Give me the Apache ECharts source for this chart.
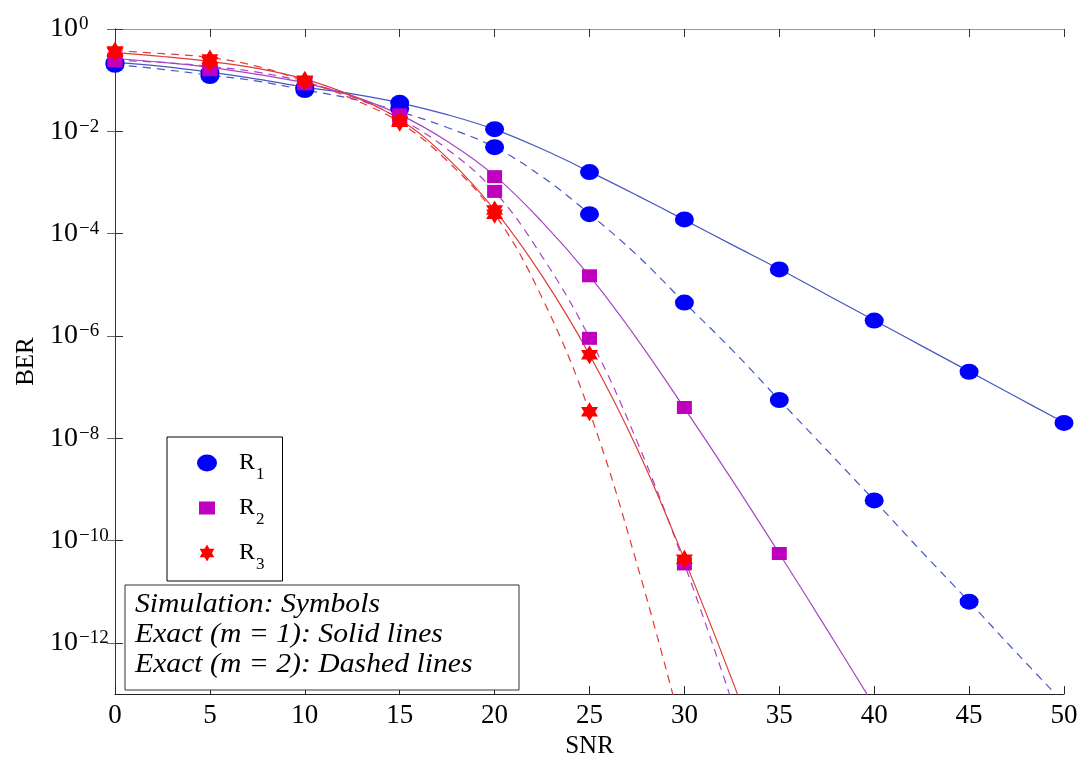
<!DOCTYPE html>
<html><head><meta charset="utf-8">
<script src="https://cdn.jsdelivr.net/npm/echarts@6/dist/echarts.min.js"></script>
<style>html,body{margin:0;padding:0;background:#fff}#c{width:1086px;height:764px}</style>
</head><body><div id="c"></div>
<script>
// ---------- data ----------
const snrCurve = [0,2.5,5,7.5,10,12.5,15,17.5,20,22.5,25,27.5,30,32.5,35,37.5,40,42.5,45,47.5,50];
// Exact curves (m = 1 solid, m = 2 dashed)
const r1ExactM1 = [0.222,0.186,0.143,0.105,0.0733,0.0538,0.0361,0.0212,0.0109,4.5e-3,1.63e-3,5.6e-4,1.86e-4,6.1e-5,2.03e-5,6.4e-6,2.03e-6,6.4e-7,2.03e-7,6.4e-8,2.03e-8];
const r1ExactM2 = [0.203,0.163,0.125,0.0957,0.0642,0.0431,0.0243,0.0119,4.9e-3,1.3e-3,2.43e-4,3.8e-5,4.5e-6,5.4e-7,5.6e-8,5.9e-9,6.1e-10,6.1e-11,6.4e-12,6.4e-13,6.7e-14];
const r2ExactM1 = [0.265,0.222,0.178,0.130,0.0875,0.0492,0.0212,6.4e-3,1.36e-3,1.7e-4,1.49e-5,8.8e-7,3.9e-8,1.56e-9,5.6e-11,1.86e-12,5.9e-14];
const r2ExactM2 = [0.243,0.222,0.186,0.143,0.0916,0.0471,0.0178,4.5e-3,6.7e-4,3.6e-5,9.2e-7,8.8e-9,3.5e-11,7.3e-14];
const r3ExactM1 = [0.345,0.29,0.232,0.170,0.1045,0.0492,0.017,3.03e-3,2.9e-4,1.49e-5,4.3e-7,6.4e-9,4.3e-11,1.94e-13,6e-16];
const r3ExactM2 = [0.377,0.33,0.277,0.186,0.0957,0.0431,0.0149,2.65e-3,2.43e-4,5.6e-6,3.3e-8,3.5e-11,1.36e-14];
// Simulation symbols
const snrSim = [0,5,10,15,20,25,30,35,40,45,50];
const r1SimM1 = [0.22,0.14,0.072,0.036,0.011,1.6e-3,1.9e-4,2e-5,2e-6,2e-7,2e-8];
const r1SimM2 = [0.2,0.12,0.064,0.028,4.9e-3,2.4e-4,4.5e-6,5.6e-8,6.1e-10,6.4e-12];
const r2SimM1 = [0.26,0.17,0.085,0.021,1.3e-3,1.5e-5,4e-8,5.6e-11];
const r2SimM2 = [0.24,0.16,0.088,0.018,6.7e-4,9e-7,3.5e-11];
const r3SimM1 = [0.35,0.23,0.1,0.016,2.9e-4,4.3e-7,4.3e-11];
const r3SimM2 = [0.37,0.26,0.095,0.015,2.4e-4,3.3e-8];
const yTickValues = [1,1e-2,1e-4,1e-6,1e-8,1e-10,1e-12];
const legendNames = ['R1','R2','R3'];
const noteLines = ['Simulation: Symbols','Exact (m = 1): Solid lines','Exact (m = 2): Dashed lines'];

// ---------- chart ----------
const SERIF = '"Liberation Serif","DejaVu Serif",serif';
const STAR = 'path://M0,-10 L2.89,-5 L8.66,-5 L5.77,0 L8.66,5 L2.89,5 L0,10 L-2.89,5 L-8.66,5 L-5.77,0 L-8.66,-5 L-2.89,-5 Z';
const ELLIPSE = 'path://M-10,0 A10,8.5 0 1,1 10,0 A10,8.5 0 1,1 -10,0 Z';
const LEG_RECT = 'path://M-10,-8.5 M10,8.5 M-8,-6.5 L8,-6.5 L8,6.5 L-8,6.5 Z';
const LEG_STAR = 'path://M-10,-8.5 M10,8.5 M0,-8.5 L2.45,-4.25 L7.36,-4.25 L4.9,0 L7.36,4.25 L2.45,4.25 L0,8.5 L-2.45,4.25 L-7.36,4.25 L-4.9,0 L-7.36,-4.25 L-2.45,-4.25 Z';
const C_BLUE_L = '#4657c0', C_MAG_L = '#a844c4', C_RED_L = '#e23a36';
const C_BLUE = '#0000ff', C_MAG = '#bf00bf', C_RED = '#ff0000';

function pairs(xs, ys){ const out=[]; for(let i=0;i<ys.length;i++){ if(ys[i]!=null) out.push([xs[i], ys[i]]); } return out; }
function lineSeries(ys, color, dashed){
  return {type:'line', data: pairs(snrCurve, ys), showSymbol:false, symbol:'none', smooth:0.4,
    lineStyle:{color, width:1.2, type: dashed ? [8,6] : 'solid'}, z:2, silent:true, clip:true};
}
function simSeries(name, ys, symbol, size, color){
  return {type:'scatter', name, data: pairs(snrSim, ys), symbol, symbolSize: size, itemStyle:{color, opacity:1}, z:5, silent:true, clip:false};
}

const chart = echarts.init(document.getElementById('c'), null, {renderer:'canvas'});
chart.setOption({
  animation:false,
  backgroundColor:'#fff',
  grid:{left:115, right:22, top:29, bottom:59, containLabel:false},
  xAxis:[
    {type:'value', min:0, max:50, interval:5, position:'bottom',
     axisLine:{show:true, lineStyle:{color:'#222', width:1}},
     axisTick:{show:true, inside:true, length:8, lineStyle:{color:'#222'}},
     axisLabel:{fontFamily:SERIF, fontSize:27, color:'#000', margin:8},
     splitLine:{show:false},
     name:'SNR', nameLocation:'middle', nameGap:33,
     nameTextStyle:{fontFamily:SERIF, fontSize:25, color:'#000'}},
    {type:'value', min:0, max:50, interval:5, position:'top',
     axisLine:{show:true, lineStyle:{color:'#999', width:1}},
     axisTick:{show:true, inside:true, length:8, lineStyle:{color:'#333'}},
     axisLabel:{show:false}, splitLine:{show:false}}
  ],
  yAxis:[
    {type:'log', logBase:10, min:1e-13, max:1, position:'left',
     axisLine:{show:true, lineStyle:{color:'#333', width:1}},
     axisTick:{show:true, inside:true, length:8, lineStyle:{color:'#333'}, customValues:yTickValues},
     minorTick:{show:false}, splitLine:{show:false},
     axisLabel:{customValues:yTickValues, align:'left', margin:65, color:'#000',
       formatter:function(v){ const e=Math.round(Math.log10(v)); return '{b|10}{s|'+(e===0?'0':'\u2212'+(-e))+'}'; },
       rich:{b:{fontFamily:SERIF, fontSize:28, color:'#000', lineHeight:28, verticalAlign:'bottom'},
             s:{fontFamily:SERIF, fontSize:19, color:'#000', lineHeight:19, verticalAlign:'top', padding:[0,0,12,1]}}},
     name:'BER', nameLocation:'middle', nameGap:76, nameRotate:90,
     nameTextStyle:{fontFamily:SERIF, fontSize:25, color:'#000'}},
    {type:'log', logBase:10, min:1e-13, max:1, position:'right',
     axisLine:{show:true, lineStyle:{color:'#333', width:1}},
     axisTick:{show:true, inside:true, length:8, lineStyle:{color:'#666'}, customValues:yTickValues},
     axisLabel:{show:false}, splitLine:{show:false}, minorTick:{show:false}}
  ],
  legend:{
    data:[{name:'R1', icon:ELLIPSE},{name:'R2', icon:LEG_RECT},{name:'R3', icon:LEG_STAR}],
    orient:'vertical', left:167, top:437, padding:[14,18,8,30], itemGap:13,
    itemWidth:20, itemHeight:17, selectedMode:false,
    borderColor:'#000', borderWidth:1, backgroundColor:'#fff', z:10,
    formatter:function(n){ return '{r|R}{s|'+n.slice(1)+'}'; },
    textStyle:{rich:{
      r:{fontFamily:SERIF, fontSize:24, color:'#000', lineHeight:30, padding:[0,0,0,17]},
      s:{fontFamily:SERIF, fontSize:17, color:'#000', lineHeight:17, verticalAlign:'bottom', padding:[0,0,-5,1]}
    }}
  },
  graphic:[
    {type:'rect', shape:{x:125, y:585, width:394, height:105}, style:{fill:'#fff', stroke:'#333', lineWidth:1}, z:100},
    {type:'text', x:135, y:590, scaleX:1.1, style:{text:noteLines.join('\n'), font:'italic 27px '+SERIF, fill:'#000', lineHeight:30}, z:101}
  ],
  series:[
    lineSeries(r1ExactM1, C_BLUE_L, false),
    lineSeries(r1ExactM2, C_BLUE_L, true),
    lineSeries(r2ExactM1, C_MAG_L, false),
    lineSeries(r2ExactM2, C_MAG_L, true),
    lineSeries(r3ExactM1, C_RED_L, false),
    lineSeries(r3ExactM2, C_RED_L, true),
    simSeries('R1', r1SimM1, ELLIPSE, [19,16], C_BLUE),
    simSeries('R1', r1SimM2, ELLIPSE, [19,16], C_BLUE),
    simSeries('R2', r2SimM1, 'rect', [15,13], C_MAG),
    simSeries('R2', r2SimM2, 'rect', [15,13], C_MAG),
    simSeries('R3', r3SimM1, STAR, [17,19], C_RED),
    simSeries('R3', r3SimM2, STAR, [17,19], C_RED)
  ]
});
</script></body></html>
